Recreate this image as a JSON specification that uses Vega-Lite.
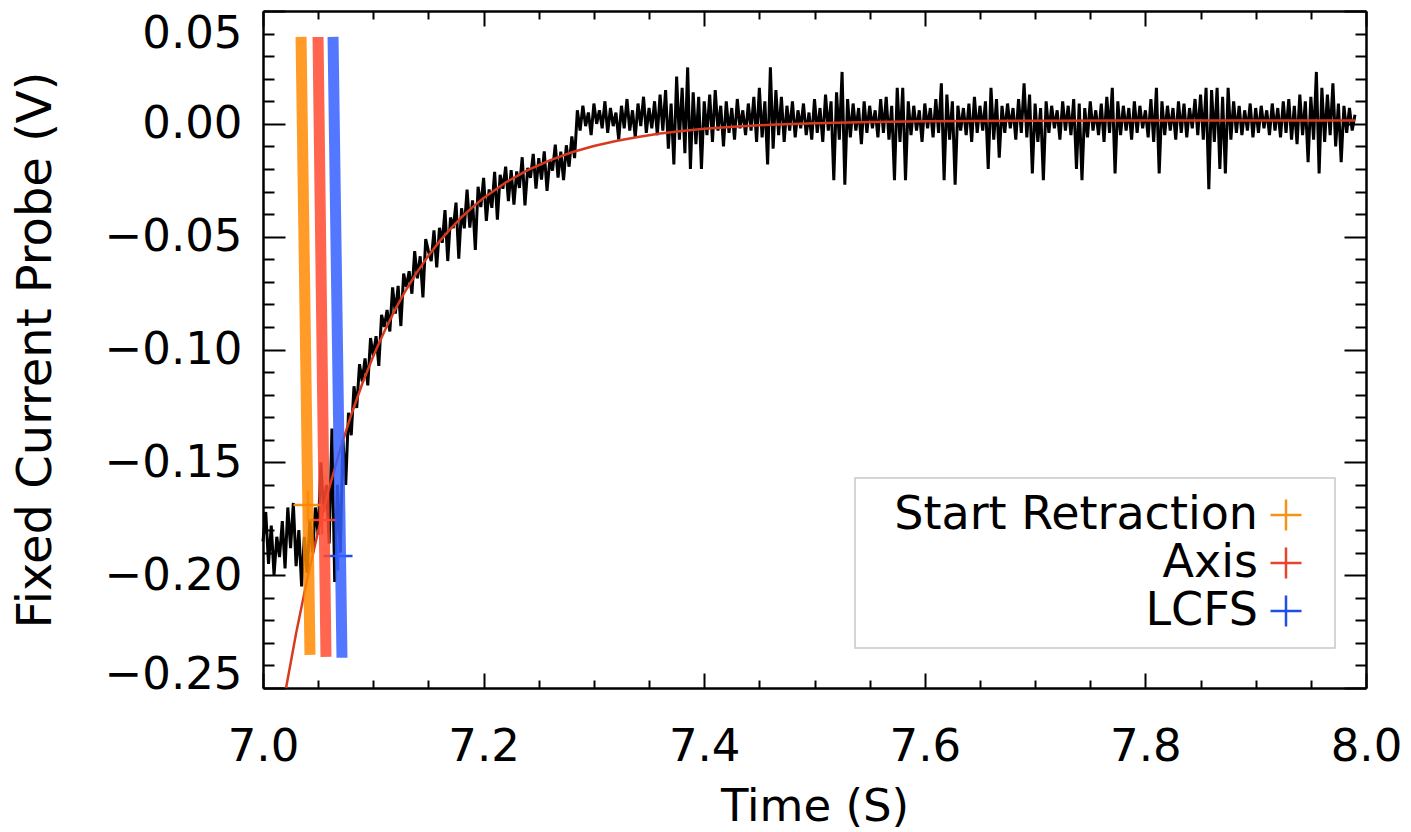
{
  "$schema": "https://vega.github.io/schema/vega-lite/v6.json",
  "width": 1103,
  "height": 677,
  "autosize": {"type": "none"},
  "padding": {"left": 263, "top": 11, "right": 45, "bottom": 144},
  "background": "white",
  "config": {"view": {"stroke": null}, "font": "DejaVu Sans", "legend": {"strokeWidth": 1.5}},
  "datasets": {
    "sig": [
      {"t":7.0,"v":-0.185},{"t":7.0025,"v":-0.172},{"t":7.005,"v":-0.195},{"t":7.0075,"v":-0.178},{"t":7.01,"v":-0.2},{"t":7.0125,"v":-0.183},{"t":7.015,"v":-0.192},{"t":7.0175,"v":-0.176},{"t":7.02,"v":-0.197},{"t":7.0225,"v":-0.17},{"t":7.025,"v":-0.188},{"t":7.0275,"v":-0.168},{"t":7.03,"v":-0.196},{"t":7.0325,"v":-0.18},{"t":7.035,"v":-0.205},{"t":7.0375,"v":-0.183},{"t":7.04,"v":-0.199},{"t":7.0425,"v":-0.176},{"t":7.045,"v":-0.19},
      {"t":7.0475,"v":-0.17},{"t":7.05,"v":-0.182},{"t":7.0525,"v":-0.15},{"t":7.055,"v":-0.172},{"t":7.0575,"v":-0.16},{"t":7.06,"v":-0.186},{"t":7.0625,"v":-0.135},{"t":7.065,"v":-0.203},{"t":7.0675,"v":-0.16},{"t":7.07,"v":-0.19},{"t":7.0725,"v":-0.14},{"t":7.075,"v":-0.16},{"t":7.0775,"v":-0.128},{"t":7.08,"v":-0.138},
      {"t":7.0825,"v":-0.1163},{"t":7.085,"v":-0.1259},{"t":7.0875,"v":-0.1065},{"t":7.09,"v":-0.1142},{"t":7.0925,"v":-0.104},{"t":7.095,"v":-0.1159},{"t":7.0975,"v":-0.0949},{"t":7.1,"v":-0.1029},{"t":7.1025,"v":-0.0941},{"t":7.105,"v":-0.1073},{"t":7.1075,"v":-0.0846},{"t":7.11,"v":-0.09},{"t":7.1125,"v":-0.0825},{"t":7.115,"v":-0.092},{"t":7.1175,"v":-0.0725},{"t":7.12,"v":-0.0841},{"t":7.1225,"v":-0.0718},{"t":7.125,"v":-0.0896},{"t":7.1275,"v":-0.0664},{"t":7.13,"v":-0.0723},{"t":7.1325,"v":-0.0653},{"t":7.135,"v":-0.0753},{"t":7.1375,"v":-0.0564},{"t":7.14,"v":-0.0685},{"t":7.1425,"v":-0.0587},{"t":7.145,"v":-0.0769},{"t":7.1475,"v":-0.0511},{"t":7.15,"v":-0.0564},
      {"t":7.1525,"v":-0.0608},{"t":7.155,"v":-0.0472},{"t":7.1575,"v":-0.0636},{"t":7.16,"v":-0.0461},{"t":7.1625,"v":-0.0527},{"t":7.165,"v":-0.0382},{"t":7.1675,"v":-0.0608},{"t":7.17,"v":-0.0415},{"t":7.1725,"v":-0.0462},{"t":7.175,"v":-0.0349},{"t":7.1775,"v":-0.0597},{"t":7.18,"v":-0.0374},{"t":7.1825,"v":-0.0463},{"t":7.185,"v":-0.0291},{"t":7.1875,"v":-0.046},{"t":7.19,"v":-0.0339},{"t":7.1925,"v":-0.0559},{"t":7.195,"v":-0.0279},{"t":7.1975,"v":-0.0369},{"t":7.2,"v":-0.0239},{"t":7.2025,"v":-0.043},{"t":7.205,"v":-0.0291},{"t":7.2075,"v":-0.0372},{"t":7.21,"v":-0.0213},{"t":7.2125,"v":-0.0425},{"t":7.215,"v":-0.0226},{"t":7.2175,"v":-0.0288},{"t":7.22,"v":-0.019},
      {"t":7.2225,"v":-0.0343},{"t":7.225,"v":-0.0205},{"t":7.2275,"v":-0.0358},{"t":7.23,"v":-0.0211},{"t":7.2325,"v":-0.0284},{"t":7.235,"v":-0.0148},{"t":7.2375,"v":-0.0361},{"t":7.24,"v":-0.0195},{"t":7.2425,"v":-0.0239},{"t":7.245,"v":-0.0133},{"t":7.2475,"v":-0.0287},{"t":7.25,"v":-0.0152},{"t":7.2525,"v":-0.0247},{"t":7.255,"v":-0.0122},{"t":7.2575,"v":-0.0297},{"t":7.26,"v":-0.0162},{"t":7.2625,"v":-0.0207},{"t":7.265,"v":-0.0092},{"t":7.2675,"v":-0.0238},{"t":7.27,"v":-0.0123},{"t":7.2725,"v":-0.0249},{"t":7.275,"v":-0.0095},{"t":7.2775,"v":-0.019},{"t":7.28,"v":-0.0056},{"t":7.2825,"v":-0.0152},
      {"t":7.285,"v":0.006},{"t":7.2875,"v":-0.003},{"t":7.29,"v":0.008},{"t":7.2925,"v":-0.001},{"t":7.295,"v":0.005},{"t":7.2975,"v":-0.005},{"t":7.3,"v":0.009},{"t":7.3025,"v":0.0},{"t":7.305,"v":0.006},{"t":7.3075,"v":-0.002},{"t":7.31,"v":0.01},{"t":7.3125,"v":-0.004},{"t":7.315,"v":0.007},{"t":7.3175,"v":-0.001},{"t":7.32,"v":0.005},{"t":7.3225,"v":-0.007},{"t":7.325,"v":0.008},{"t":7.3275,"v":-0.002},{"t":7.33,"v":0.011},{"t":7.3325,"v":-0.003},{"t":7.335,"v":0.006},{"t":7.3375,"v":-0.006},{"t":7.34,"v":0.009},{"t":7.3425,"v":-0.001},{"t":7.345,"v":0.012},{"t":7.3475,"v":-0.004},{"t":7.35,"v":0.007},{"t":7.3525,"v":-0.002},{"t":7.355,"v":0.01},{"t":7.3575,"v":-0.005},{"t":7.36,"v":0.013},{"t":7.3625,"v":-0.003},{"t":7.365,"v":0.015},{"t":7.3675,"v":-0.011},{"t":7.37,"v":0.009},{"t":7.3725,"v":-0.018},{"t":7.375,"v":0.021},{"t":7.3775,"v":-0.007},{"t":7.38,"v":0.016},{"t":7.3825,"v":-0.013},{"t":7.385,"v":0.025},{"t":7.3875,"v":-0.02},{"t":7.39,"v":0.014},{"t":7.3925,"v":-0.009},{"t":7.395,"v":0.012},{"t":7.3975,"v":-0.02},{"t":7.4,"v":0.01},{"t":7.4025,"v":-0.005},{"t":7.405,"v":0.013},{"t":7.4075,"v":-0.008},{"t":7.41,"v":0.015},{"t":7.4125,"v":-0.003},{"t":7.415,"v":0.008},{"t":7.4175,"v":-0.01},{"t":7.42,"v":0.01},{"t":7.4225,"v":-0.004},{"t":7.425,"v":0.007},{"t":7.4275,"v":-0.007},{"t":7.43,"v":0.011},{"t":7.4325,"v":-0.002},{"t":7.435,"v":0.006},{"t":7.4375,"v":-0.005},{"t":7.44,"v":0.009},{"t":7.4425,"v":-0.003},{"t":7.445,"v":0.012},{"t":7.4475,"v":-0.008},{"t":7.45,"v":0.016},{"t":7.4525,"v":-0.006},{"t":7.455,"v":0.01},{"t":7.4575,"v":-0.018},{"t":7.46,"v":0.025},{"t":7.4625,"v":-0.011},{"t":7.465,"v":0.015},{"t":7.4675,"v":-0.005},{"t":7.47,"v":0.012},{"t":7.4725,"v":-0.008},{"t":7.475,"v":0.008},{"t":7.4775,"v":-0.003},{"t":7.48,"v":0.01},{"t":7.4825,"v":-0.006},{"t":7.485,"v":0.006},{"t":7.4875,"v":-0.002},{"t":7.49,"v":0.009},{"t":7.4925,"v":-0.005},{"t":7.495,"v":0.005},{"t":7.4975,"v":-0.007},
      {"t":7.5,"v":0.011},{"t":7.5025,"v":-0.004},{"t":7.505,"v":0.007},{"t":7.5075,"v":-0.008},{"t":7.51,"v":0.013},{"t":7.5125,"v":-0.003},{"t":7.515,"v":0.01},{"t":7.5175,"v":-0.025},{"t":7.52,"v":0.014},{"t":7.5225,"v":-0.007},{"t":7.525,"v":0.023},{"t":7.5275,"v":-0.027},{"t":7.53,"v":0.011},{"t":7.5325,"v":-0.006},{"t":7.535,"v":0.009},{"t":7.5375,"v":-0.003},{"t":7.54,"v":0.007},{"t":7.5425,"v":-0.009},{"t":7.545,"v":0.01},{"t":7.5475,"v":-0.004},{"t":7.55,"v":0.008},{"t":7.5525,"v":-0.002},{"t":7.555,"v":0.006},{"t":7.5575,"v":-0.006},{"t":7.56,"v":0.011},{"t":7.5625,"v":-0.004},{"t":7.565,"v":0.012},{"t":7.5675,"v":-0.007},{"t":7.57,"v":0.008},{"t":7.5725,"v":-0.025},{"t":7.575,"v":0.016},{"t":7.5775,"v":-0.008},{"t":7.58,"v":0.016},{"t":7.5825,"v":-0.025},{"t":7.585,"v":0.01},{"t":7.5875,"v":-0.005},{"t":7.59,"v":0.008},{"t":7.5925,"v":-0.003},{"t":7.595,"v":0.006},{"t":7.5975,"v":-0.008},{"t":7.6,"v":0.009},{"t":7.6025,"v":-0.002},{"t":7.605,"v":0.007},{"t":7.6075,"v":-0.006},{"t":7.61,"v":0.011},{"t":7.6125,"v":-0.004},{"t":7.615,"v":0.018},{"t":7.6175,"v":-0.025},{"t":7.62,"v":0.013},{"t":7.6225,"v":-0.007},{"t":7.625,"v":0.01},{"t":7.6275,"v":-0.027},{"t":7.63,"v":0.008},{"t":7.6325,"v":-0.003},{"t":7.635,"v":0.007},{"t":7.6375,"v":-0.005},{"t":7.64,"v":0.009},{"t":7.6425,"v":-0.008},{"t":7.645,"v":0.012},{"t":7.6475,"v":-0.004},{"t":7.65,"v":0.008},{"t":7.6525,"v":-0.003},{"t":7.655,"v":0.01},{"t":7.6575,"v":-0.02},{"t":7.66,"v":0.016},{"t":7.6625,"v":-0.007},{"t":7.665,"v":0.011},{"t":7.6675,"v":-0.015},{"t":7.67,"v":0.008},{"t":7.6725,"v":-0.004},{"t":7.675,"v":0.009},{"t":7.6775,"v":-0.002},{"t":7.68,"v":0.007},{"t":7.6825,"v":-0.007},{"t":7.685,"v":0.011},{"t":7.6875,"v":-0.004},{"t":7.69,"v":0.018},{"t":7.6925,"v":-0.006},{"t":7.695,"v":0.013},{"t":7.6975,"v":-0.022},
      {"t":7.7,"v":0.009},{"t":7.7025,"v":-0.008},{"t":7.705,"v":0.007},{"t":7.7075,"v":-0.025},{"t":7.71,"v":0.01},{"t":7.7125,"v":-0.004},{"t":7.715,"v":0.008},{"t":7.7175,"v":-0.002},{"t":7.72,"v":0.006},{"t":7.7225,"v":-0.007},{"t":7.725,"v":0.01},{"t":7.7275,"v":-0.003},{"t":7.73,"v":0.008},{"t":7.7325,"v":-0.005},{"t":7.735,"v":0.011},{"t":7.7375,"v":-0.02},{"t":7.74,"v":0.009},{"t":7.7425,"v":-0.025},{"t":7.745,"v":0.007},{"t":7.7475,"v":-0.006},{"t":7.75,"v":0.01},{"t":7.7525,"v":-0.003},{"t":7.755,"v":0.006},{"t":7.7575,"v":-0.005},{"t":7.76,"v":0.009},{"t":7.7625,"v":-0.008},{"t":7.765,"v":0.012},{"t":7.7675,"v":-0.004},{"t":7.77,"v":0.016},{"t":7.7725,"v":-0.022},{"t":7.775,"v":0.01},{"t":7.7775,"v":-0.005},{"t":7.78,"v":0.008},{"t":7.7825,"v":-0.003},{"t":7.785,"v":0.007},{"t":7.7875,"v":-0.007},{"t":7.79,"v":0.01},{"t":7.7925,"v":-0.004},{"t":7.795,"v":0.008},{"t":7.7975,"v":-0.002},{"t":7.8,"v":0.006},{"t":7.8025,"v":-0.006},{"t":7.805,"v":0.011},{"t":7.8075,"v":-0.008},{"t":7.81,"v":0.016},{"t":7.8125,"v":-0.022},{"t":7.815,"v":0.01},{"t":7.8175,"v":-0.005},{"t":7.82,"v":0.008},{"t":7.8225,"v":-0.003},{"t":7.825,"v":0.007},{"t":7.8275,"v":-0.007},{"t":7.83,"v":0.01},{"t":7.8325,"v":-0.004},{"t":7.835,"v":0.009},{"t":7.8375,"v":-0.006},{"t":7.84,"v":0.007},{"t":7.8425,"v":-0.002},{"t":7.845,"v":0.011},{"t":7.8475,"v":-0.005},{"t":7.85,"v":0.013},{"t":7.8525,"v":-0.007},{"t":7.855,"v":0.016},{"t":7.8575,"v":-0.029},{"t":7.86,"v":0.015},{"t":7.8625,"v":-0.008},{"t":7.865,"v":0.016},{"t":7.8675,"v":-0.02},{"t":7.87,"v":0.012},{"t":7.8725,"v":-0.022},{"t":7.875,"v":0.016},{"t":7.8775,"v":-0.007},{"t":7.88,"v":0.01},{"t":7.8825,"v":-0.004},{"t":7.885,"v":0.008},{"t":7.8875,"v":-0.005},{"t":7.89,"v":0.006},{"t":7.8925,"v":-0.003},{"t":7.895,"v":0.009},{"t":7.8975,"v":-0.006},
      {"t":7.9,"v":0.007},{"t":7.9025,"v":-0.004},{"t":7.905,"v":0.008},{"t":7.9075,"v":-0.002},{"t":7.91,"v":0.006},{"t":7.9125,"v":-0.005},{"t":7.915,"v":0.009},{"t":7.9175,"v":-0.003},{"t":7.92,"v":0.007},{"t":7.9225,"v":-0.006},{"t":7.925,"v":0.01},{"t":7.9275,"v":-0.004},{"t":7.93,"v":0.011},{"t":7.9325,"v":-0.007},{"t":7.935,"v":0.008},{"t":7.9375,"v":-0.009},{"t":7.94,"v":0.013},{"t":7.9425,"v":-0.005},{"t":7.945,"v":0.01},{"t":7.9475,"v":-0.017},{"t":7.95,"v":0.012},{"t":7.9525,"v":-0.007},{"t":7.955,"v":0.023},{"t":7.9575,"v":-0.022},{"t":7.96,"v":0.016},{"t":7.9625,"v":-0.008},{"t":7.965,"v":0.013},{"t":7.9675,"v":-0.005},{"t":7.97,"v":0.018},{"t":7.9725,"v":-0.01},{"t":7.975,"v":0.009},{"t":7.9775,"v":-0.017},{"t":7.98,"v":0.008},{"t":7.9825,"v":-0.004},{"t":7.985,"v":0.007},{"t":7.9875,"v":-0.003},{"t":7.99,"v":0.004}
    ],
    "fit": [
      {"t":7.0209,"v":-0.25},{"t":7.03,"v":-0.2258},{"t":7.04,"v":-0.2019},{"t":7.05,"v":-0.1805},{"t":7.06,"v":-0.1614},{"t":7.07,"v":-0.1442},{"t":7.08,"v":-0.1289},{"t":7.09,"v":-0.1152},{"t":7.1,"v":-0.1029},{"t":7.11,"v":-0.092},{"t":7.12,"v":-0.0821},{"t":7.13,"v":-0.0733},{"t":7.14,"v":-0.0655},{"t":7.15,"v":-0.0584},{"t":7.16,"v":-0.0521},{"t":7.17,"v":-0.0465},{"t":7.18,"v":-0.0414},{"t":7.19,"v":-0.0369},{"t":7.2,"v":-0.0329},{"t":7.22,"v":-0.026},{"t":7.24,"v":-0.0205},{"t":7.26,"v":-0.0162},{"t":7.28,"v":-0.0126},{"t":7.3,"v":-0.0098},{"t":7.32,"v":-0.0076},{"t":7.34,"v":-0.0058},{"t":7.36,"v":-0.0043},{"t":7.38,"v":-0.0032},{"t":7.4,"v":-0.0022},{"t":7.43,"v":-0.0012},{"t":7.46,"v":-0.0004},{"t":7.5,"v":0.0003},{"t":7.55,"v":0.0008},{"t":7.6,"v":0.0011},{"t":7.7,"v":0.0014},{"t":7.8,"v":0.0015},{"t":7.99,"v":0.0015}
    ],
    "marks": [
      {"marker":"Start Retraction","t":7.0408,"v":-0.1689},
      {"marker":"Axis","t":7.0535,"v":-0.1755},
      {"marker":"LCFS","t":7.068,"v":-0.1915}
    ],
    "bars": [
      {"marker":"Start Retraction","t":7.0345,"v":0.0385},{"marker":"Start Retraction","t":7.0426,"v":-0.2353},
      {"marker":"Axis","t":7.0499,"v":0.0385},{"marker":"Axis","t":7.0571,"v":-0.2362},
      {"marker":"LCFS","t":7.0635,"v":0.0385},{"marker":"LCFS","t":7.0716,"v":-0.2366}
    ]
  },
  "resolve": {"axis": {"x": "independent", "y": "independent"}},
  "layer": [
    {
      "data": {"name": "sig"},
      "mark": {"type": "line", "color": "black", "strokeWidth": 3},
      "encoding": {
        "x": {"field": "t", "type": "quantitative",
          "scale": {"domain": [7, 8], "nice": false, "zero": false},
          "axis": {"orient": "bottom",
            "values": [7,7.05,7.1,7.15,7.2,7.25,7.3,7.35,7.4,7.45,7.5,7.55,7.6,7.65,7.7,7.75,7.8,7.85,7.9,7.95,8],
            "labelExpr": "abs(datum.value*5-round(datum.value*5))<0.001 ? format(datum.value,'.1f') : ''",
            "tickSize": {"condition": {"test": "abs(datum.value*5-round(datum.value*5))<0.001", "value": -15}, "value": -8},
            "tickWidth": 2, "tickColor": "black", "domainColor": "black", "domainWidth": 2.5, "grid": false,
            "labelFont": "DejaVu Sans", "labelFontSize": 45, "labelColor": "black", "labelPadding": 51,
            "labelOverlap": false, "labelFlush": false, "labelBound": false,
            "title": "Time (S)", "titleFont": "DejaVu Sans", "titleFontSize": 45, "titleFontWeight": "normal", "titleColor": "black", "titlePadding": 8}},
        "y": {"field": "v", "type": "quantitative",
          "scale": {"domain": [-0.25, 0.05], "nice": false, "zero": false},
          "axis": {"orient": "left",
            "values": [-0.25,-0.24,-0.23,-0.22,-0.21,-0.2,-0.19,-0.18,-0.17,-0.16,-0.15,-0.14,-0.13,-0.12,-0.11,-0.1,-0.09,-0.08,-0.07,-0.06,-0.05,-0.04,-0.03,-0.02,-0.01,0,0.01,0.02,0.03,0.04,0.05],
            "labelExpr": "abs(datum.value*20-round(datum.value*20))<0.001 ? format(datum.value,'.2f') : ''",
            "tickSize": {"condition": {"test": "abs(datum.value*20-round(datum.value*20))<0.001", "value": -22}, "value": -11},
            "labelOffset": {"condition": {"test": "datum.value < -0.249", "value": 9}, "value": 0},
            "tickWidth": 2, "tickColor": "black", "domainColor": "black", "domainWidth": 2.5, "grid": false,
            "labelFont": "DejaVu Sans", "labelFontSize": 45, "labelColor": "black", "labelPadding": 43,
            "labelOverlap": false, "labelFlush": true, "labelBound": false,
            "title": "Fixed Current Probe (V)", "titleFont": "DejaVu Sans", "titleFontSize": 48, "titleFontWeight": "normal", "titleColor": "black", "titlePadding": 44}}
      }
    },
    {
      "data": {"name": "fit"},
      "mark": {"type": "line", "color": "#D83A20", "strokeWidth": 2.5},
      "encoding": {
        "x": {"field": "t", "type": "quantitative",
          "axis": {"orient": "top", "labels": false, "title": null,
            "values": [7,7.05,7.1,7.15,7.2,7.25,7.3,7.35,7.4,7.45,7.5,7.55,7.6,7.65,7.7,7.75,7.8,7.85,7.9,7.95,8],
            "tickSize": {"condition": {"test": "abs(datum.value*5-round(datum.value*5))<0.001", "value": -15}, "value": -8},
            "tickWidth": 2, "tickColor": "black", "domainColor": "black", "domainWidth": 2.5, "grid": false}},
        "y": {"field": "v", "type": "quantitative",
          "axis": {"orient": "right", "labels": false, "title": null,
            "values": [-0.25,-0.24,-0.23,-0.22,-0.21,-0.2,-0.19,-0.18,-0.17,-0.16,-0.15,-0.14,-0.13,-0.12,-0.11,-0.1,-0.09,-0.08,-0.07,-0.06,-0.05,-0.04,-0.03,-0.02,-0.01,0,0.01,0.02,0.03,0.04,0.05],
            "tickSize": {"condition": {"test": "abs(datum.value*20-round(datum.value*20))<0.001", "value": -22}, "value": -11},
            "tickWidth": 2, "tickColor": "black", "domainColor": "black", "domainWidth": 2.5, "grid": false}}
      }
    },
    {
      "data": {"name": "marks"},
      "mark": {"type": "point", "shape": "M-1,0H1M0,-1V1", "filled": false, "size": 841, "strokeWidth": 2.5, "opacity": 1},
      "encoding": {
        "x": {"field": "t", "type": "quantitative", "axis": null},
        "y": {"field": "v", "type": "quantitative", "axis": null},
        "color": {"field": "marker", "type": "nominal",
          "scale": {"domain": ["Start Retraction", "Axis", "LCFS"], "range": ["#F39419", "#E8432B", "#1E4FE6"]},
          "legend": {"orient": "none", "legendX": 592, "legendY": 467, "title": null,
            "labelFont": "DejaVu Sans", "labelFontSize": 46, "labelColor": "black", "labelAlign": "right",
            "labelOffset": -51, "symbolOffset": 394, "labelLimit": 1000,
            "symbolType": "M-1,0H1M0,-1V1M1.9,0", "symbolSize": 961, "symbolStrokeWidth": 2.5, "symbolOpacity": 1,
            "symbolFillColor": "transparent", "strokeColor": "#c8c8c8", "fillColor": "white",
            "padding": 14, "rowPadding": 2}}
      }
    },
    {
      "data": {"name": "bars"},
      "mark": {"type": "line", "strokeWidth": 11, "strokeCap": "butt", "opacity": 0.85},
      "encoding": {
        "x": {"field": "t", "type": "quantitative", "axis": null},
        "y": {"field": "v", "type": "quantitative", "axis": null},
        "stroke": {"field": "marker", "type": "nominal", "legend": null,
          "scale": {"domain": ["Start Retraction", "Axis", "LCFS"], "range": ["#FF8A00", "#FF4A30", "#3560FF"]}}
      }
    }
  ]
}
